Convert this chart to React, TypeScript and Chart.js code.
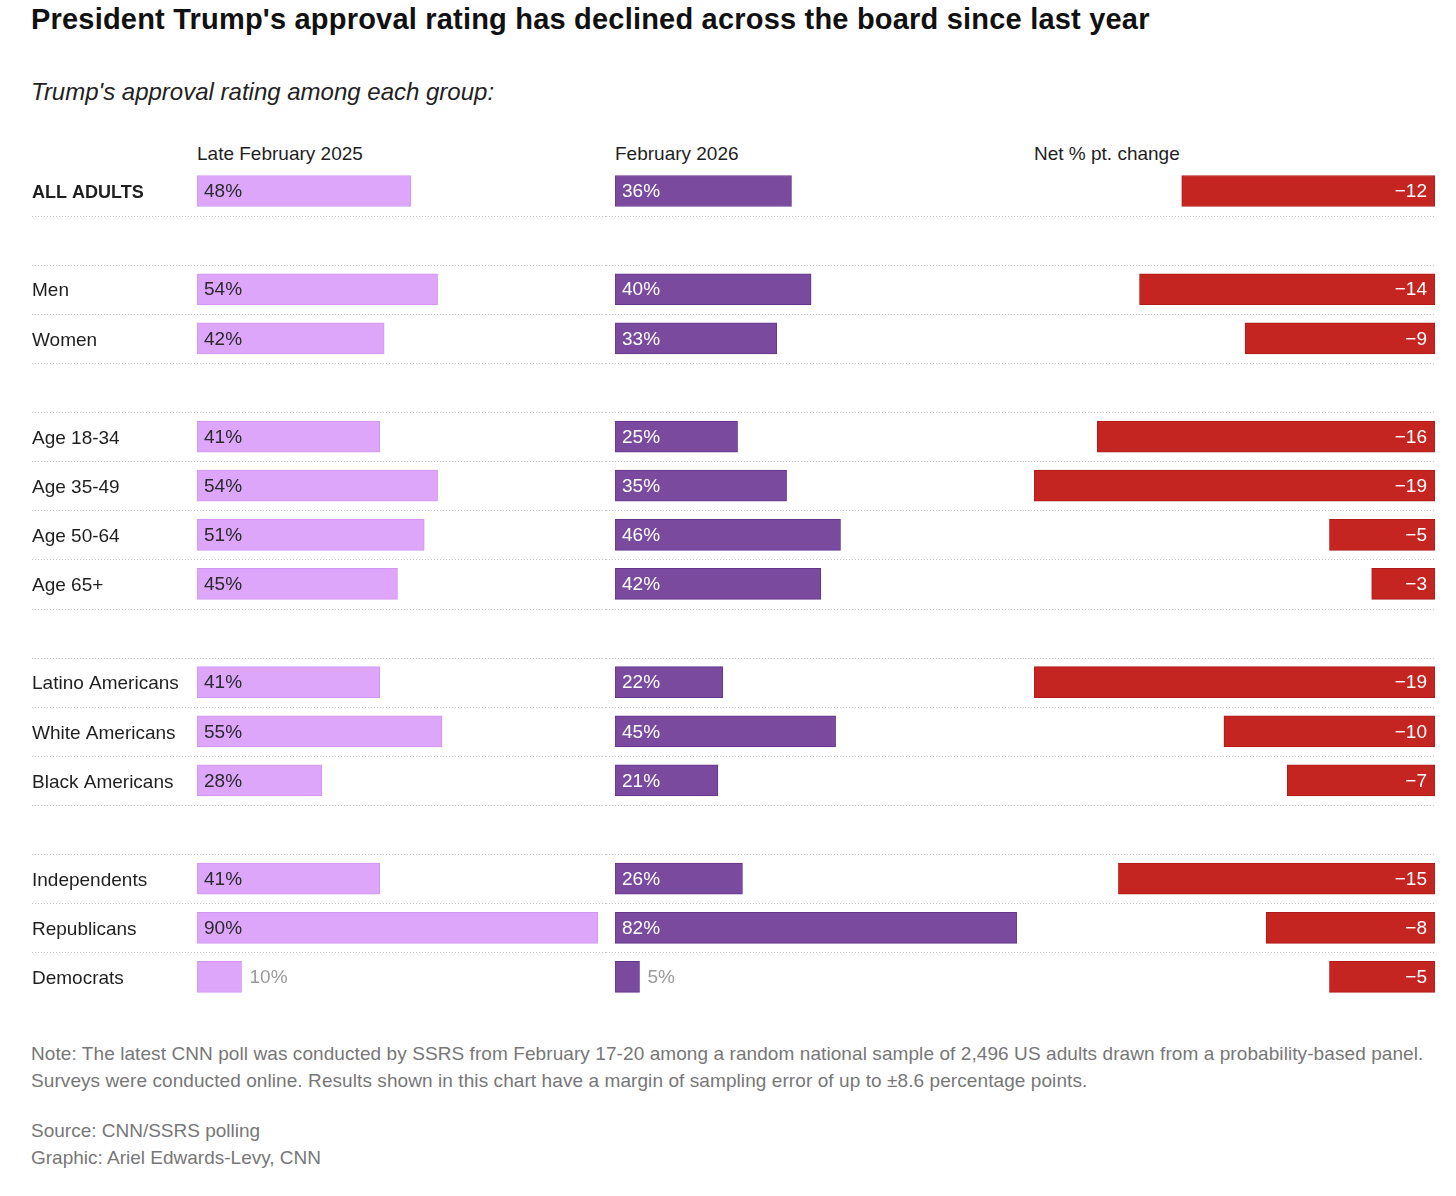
import React, { useEffect, useRef } from "react";
import { Chart, registerables } from "chart.js";

Chart.register(...registerables);

const FONT = "'Liberation Sans', Arial, sans-serif";

const title = "President Trump's approval rating has declined across the board since last year";
const subtitle = "Trump's approval rating among each group:";
const columnHeaders = ["Late February 2025", "February 2026", "Net % pt. change"];

const categories = [
  "ALL ADULTS", "",
  "Men", "Women", "",
  "Age 18-34", "Age 35-49", "Age 50-64", "Age 65+", "",
  "Latino Americans", "White Americans", "Black Americans", "",
  "Independents", "Republicans", "Democrats",
];
const feb2025 = [48, null, 54, 42, null, 41, 54, 51, 45, null, 41, 55, 28, null, 41, 90, 10];
const feb2026 = [36, null, 40, 33, null, 25, 35, 46, 42, null, 22, 45, 21, null, 26, 82, 5];
const netChange = [-12, null, -14, -9, null, -16, -19, -5, -3, null, -19, -10, -7, null, -15, -8, -5];

const noteLines = [
  "Note: The latest CNN poll was conducted by SSRS from February 17-20 among a random national sample of 2,496 US adults drawn from a probability-based panel.",
  "Surveys were conducted online. Results shown in this chart have a margin of sampling error of up to \u00b18.6 percentage points.",
];
const creditLines = ["Source: CNN/SSRS polling", "Graphic: Ariel Edwards-Levy, CNN"];

type ColSpec = {
  values: (number | null)[];
  fill: string;
  border: string;
  textColor: string;
  negative: boolean;
  showLabels: boolean;
  left: number;
  width: number;
  padLeft: number;
  padRight: number;
  fmt: (v: number) => string;
};

const CANVAS_TOP = 160;
const CANVAS_H = 850;
const PAD_TOP = 6.4;
const PAD_BOTTOM = 8.5;
const TEXT_SIZE = 19;

const separatorPlugin = {
  id: "separators",
  beforeDatasetsDraw(chart: any) {
    const ctx = chart.ctx;
    const y = chart.scales.y;
    ctx.save();
    ctx.strokeStyle = "#c4c4c4";
    ctx.lineWidth = 1;
    ctx.setLineDash([1, 2]);
    for (let i = 0; i < categories.length - 1; i++) {
      const py = Math.round((y.getPixelForValue(i) + y.getPixelForValue(i + 1)) / 2) + 0.5;
      ctx.beginPath();
      ctx.moveTo(0, py);
      ctx.lineTo(chart.width, py);
      ctx.stroke();
    }
    ctx.restore();
  },
};

const valueLabelPlugin = {
  id: "valueLabels",
  afterDatasetsDraw(chart: any, _args: any, opts: any) {
    const ctx = chart.ctx;
    const meta = chart.getDatasetMeta(0);
    const data = chart.data.datasets[0].data;
    ctx.save();
    ctx.font = `${TEXT_SIZE}px ${FONT}`;
    ctx.textBaseline = "middle";
    meta.data.forEach((el: any, i: number) => {
      const v = data[i];
      if (v === null || v === undefined) return;
      const { x, y, base } = el.getProps(["x", "y", "base"], true);
      const text = opts.fmt(v);
      const tw = ctx.measureText(text).width;
      const barW = Math.abs(x - base);
      if (opts.negative) {
        ctx.textAlign = "right";
        ctx.fillStyle = opts.textColor;
        ctx.fillText(text, base - 8, y + 1);
      } else if (barW >= tw + 14) {
        ctx.textAlign = "left";
        ctx.fillStyle = opts.textColor;
        ctx.fillText(text, base + 7, y + 1);
      } else {
        ctx.textAlign = "left";
        ctx.fillStyle = "#9a9a9a";
        ctx.fillText(text, x + 8, y + 1);
      }
    });
    ctx.restore();
  },
};

function ColumnChart({ spec }: { spec: ColSpec }) {
  const ref = useRef<HTMLCanvasElement | null>(null);
  useEffect(() => {
    if (!ref.current) return;
    const nums = spec.values.filter((v) => v !== null) as number[];
    const xMin = spec.negative ? Math.min(...nums) : 0;
    const xMax = spec.negative ? 0 : Math.max(...nums);
    const yScale: any = {
      type: "category",
      display: spec.showLabels,
      grid: { display: false },
      border: { display: false },
      ticks: {
        crossAlign: "far",
        padding: 0,
        labelOffset: 2,
        color: "#1f1f1f",
        font: (c: any) => ({
          family: FONT,
          size: c.index === 0 ? 18 : TEXT_SIZE,
          weight: c.index === 0 ? "bold" : "normal",
        }),
      },
    };
    if (spec.showLabels) {
      yScale.afterFit = (s: any) => {
        s.width = 165;
        s.paddingTop = 0;
        s.paddingBottom = 0;
      };
    }
    const chart = new Chart(ref.current, {
      type: "bar",
      data: {
        labels: categories,
        datasets: [
          {
            data: spec.values as any,
            backgroundColor: spec.fill,
            borderColor: spec.border,
            borderWidth: 1,
            borderSkipped: false,
            barThickness: 31,
          },
        ],
      },
      options: {
        indexAxis: "y",
        animation: false,
        responsive: false,
        events: [],
        layout: {
          padding: { left: spec.padLeft, right: spec.padRight, top: PAD_TOP, bottom: PAD_BOTTOM },
        },
        plugins: {
          legend: { display: false },
          tooltip: { enabled: false },
          valueLabels: { fmt: spec.fmt, negative: spec.negative, textColor: spec.textColor },
        } as any,
        scales: {
          x: { type: "linear", display: false, min: xMin, max: xMax },
          y: yScale,
        },
      },
      plugins: [separatorPlugin, valueLabelPlugin],
    });
    return () => chart.destroy();
  }, [spec]);
  return (
    <canvas
      ref={ref}
      width={spec.width}
      height={CANVAS_H}
      style={{ position: "absolute", left: spec.left, top: CANVAS_TOP, width: spec.width, height: CANVAS_H }}
    />
  );
}

const specs: ColSpec[] = [
  {
    values: feb2025,
    fill: "#dea6fb",
    border: "#d396f3",
    textColor: "#2a2a2a",
    negative: false,
    showLabels: true,
    left: 32,
    width: 574,
    padLeft: 0,
    padRight: 8,
    fmt: (v) => `${v}%`,
  },
  {
    values: feb2026,
    fill: "#7a4a9f",
    border: "#65358c",
    textColor: "#ffffff",
    negative: false,
    showLabels: false,
    left: 606,
    width: 419,
    padLeft: 9,
    padRight: 8,
    fmt: (v) => `${v}%`,
  },
  {
    values: netChange,
    fill: "#c42521",
    border: "#b01a1a",
    textColor: "#ffffff",
    negative: true,
    showLabels: false,
    left: 1025,
    width: 411,
    padLeft: 9,
    padRight: 1,
    fmt: (v) => `\u2212${Math.abs(v)}`,
  },
];

const headerX = [197, 615, 1034];

function Line({ text, x, cy, size, color, weight, italic, lh, ls }: any) {
  return (
    <div
      style={{
        position: "absolute",
        left: x,
        top: cy - lh / 2,
        height: lh,
        lineHeight: `${lh}px`,
        fontSize: size,
        color,
        fontWeight: weight || "normal",
        fontStyle: italic ? "italic" : "normal",
        letterSpacing: ls || 0,
        whiteSpace: "nowrap",
        fontFamily: FONT,
      }}
    >
      {text}
    </div>
  );
}

export default function App() {
  return (
    <div style={{ position: "absolute", left: 0, top: 0, width: 1456, height: 1196, background: "#fff" }}>
      <Line text={title} x={31} cy={19} size={29} color="#111" weight="bold" lh={36} ls={0.2} />
      <Line text={subtitle} x={31} cy={92} size={24} color="#222" italic lh={32} />
      {columnHeaders.map((h, i) => (
        <Line key={h} text={h} x={headerX[i]} cy={154} size={TEXT_SIZE} color="#1f1f1f" lh={26} />
      ))}
      {specs.map((s, i) => (
        <ColumnChart key={i} spec={s} />
      ))}
      {noteLines.map((t, i) => (
        <Line key={t} text={t} x={31} cy={1054 + i * 27} size={19} color="#777" lh={26} ls={0.08} />
      ))}
      {creditLines.map((t, i) => (
        <Line key={t} text={t} x={31} cy={1131 + i * 27} size={19} color="#777" lh={26} />
      ))}
    </div>
  );
}
